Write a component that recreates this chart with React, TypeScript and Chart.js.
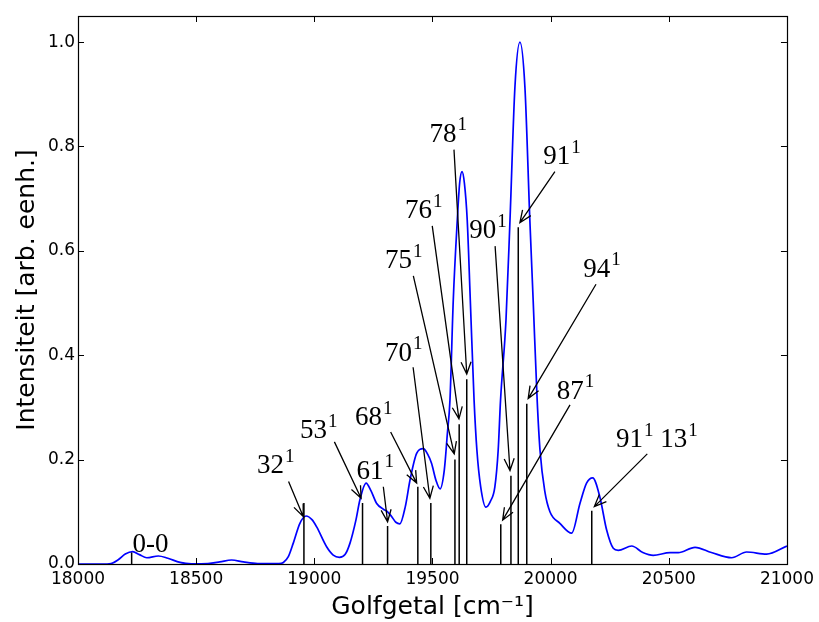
import React, { useEffect, useRef } from "react";
import { Chart, registerables } from "chart.js";

Chart.register(...registerables);

// ---- axis ticks ----
const xTicks = [18000, 18500, 19000, 19500, 20000, 20500, 21000];
const yTicks = [0, 0.2, 0.4, 0.6, 0.8, 1.0];

// ---- spectrum (blue curve) ----
const spectrumX = [
  18000, 18100, 18140, 18170, 18200, 18231, 18260, 18291, 18340, 18380, 18432, 18480,
  18550, 18600, 18650, 18700, 18760, 18850, 18869, 18890, 18911, 18939, 18965, 18990,
  19010, 19052, 19080, 19106, 19130, 19151, 19176, 19193, 19219, 19240, 19264, 19292,
  19310, 19327, 19345, 19362, 19385, 19405, 19433, 19461, 19480, 19496, 19515, 19532,
  19550, 19563, 19574, 19588, 19605, 19615, 19625, 19635, 19647, 19660, 19676, 19688,
  19704, 19726, 19745, 19764, 19778, 19788, 19811, 19828, 19849, 19870, 19891, 19912,
  19926, 19943, 19955, 19975, 19997, 20039, 20089, 20124, 20152, 20178, 20208, 20237,
  20265, 20286, 20343, 20390, 20434, 20505, 20540, 20611, 20680, 20766, 20829, 20914, 21000,
];
const spectrumY = [
  0, 0, 0.001, 0.008, 0.019, 0.0236, 0.018, 0.012, 0.0153, 0.011, 0.003, 0.0005,
  0.001, 0.004, 0.0077, 0.004, 0.001, 0.001, 0.003, 0.014, 0.04, 0.078, 0.092, 0.085,
  0.071, 0.033, 0.017, 0.0128, 0.018, 0.04, 0.084, 0.123, 0.155, 0.14, 0.116, 0.105,
  0.1, 0.091, 0.08, 0.077, 0.11, 0.161, 0.212, 0.221, 0.21, 0.193, 0.16, 0.144,
  0.18, 0.25, 0.314, 0.506, 0.659, 0.73, 0.752, 0.73, 0.659, 0.506, 0.314, 0.218,
  0.148, 0.109, 0.12, 0.148, 0.218, 0.314, 0.467, 0.659, 0.915, 1.0, 0.915, 0.659,
  0.506, 0.314, 0.218, 0.14, 0.1, 0.078, 0.059, 0.116, 0.155, 0.165, 0.129, 0.065,
  0.03, 0.026, 0.0345, 0.022, 0.0166, 0.0217, 0.0217, 0.032, 0.022, 0.012, 0.023, 0.019, 0.0345,
];

// ---- stick spectrum (black lines) ----
const stickX = [18227, 18956, 19204, 19310, 19438, 19493, 19595, 19613, 19645, 19789, 19832, 19863, 19899, 20174];
const stickY = [0.022, 0.117, 0.117, 0.073, 0.148, 0.117, 0.2, 0.268, 0.354, 0.076, 0.169, 0.645, 0.307, 0.102];

// ---- annotations ----
const labelTexts = ["0-0", "32^1", "53^1", "61^1", "68^1", "70^1", "75^1", "76^1", "78^1", "90^1", "91^1", "94^1", "87^1", "91^1 13^1"];
const labelX = [18231, 18757, 18939, 19179, 19172, 19299, 19299, 19384, 19487, 19656, 19969, 20138, 20026, 20277];
const labelY = [0.0236, 0.174, 0.241, 0.163, 0.266, 0.389, 0.567, 0.662, 0.809, 0.624, 0.766, 0.55, 0.317, 0.2235];
const arrowFromX = [null, 18891, 19085, 19292, 19323, 19418, 19419, 19499, 19591, 19765, 20018, 20192, 20082, 20409];
const arrowFromY = [null, 0.158, 0.234, 0.148, 0.253, 0.377, 0.552, 0.648, 0.794, 0.609, 0.752, 0.536, 0.305, 0.211];
const arrowToX = [null, 18953, 19198, 19310, 19433, 19489, 19592, 19612, 19645, 19828, 19870, 19905, 19797, 20185];
const arrowToY = [null, 0.091, 0.126, 0.081, 0.155, 0.126, 0.211, 0.278, 0.364, 0.179, 0.654, 0.317, 0.084, 0.11];

const MAIN_FONT = "27px 'Liberation Serif'";
const SUP_FONT = "19px 'Liberation Serif'";

function drawRich(ctx: CanvasRenderingContext2D, text: string, x: number, y: number) {
  const parts = text.split(/\^(\d+)/);
  let cx = x;
  ctx.textAlign = "left";
  ctx.textBaseline = "alphabetic";
  parts.forEach((p, i) => {
    if (!p) return;
    if (i % 2 === 1) {
      ctx.font = SUP_FONT;
      ctx.fillText(p, cx + 1, y - 11.5);
      cx += ctx.measureText(p).width + 1;
    } else {
      ctx.font = MAIN_FONT;
      ctx.fillText(p, cx, y);
      cx += ctx.measureText(p).width;
    }
  });
}

const annotationPlugin = {
  id: "annotations",
  afterDatasetsDraw(chart: any) {
    const { ctx, scales } = chart;
    const xs = scales.x;
    const ys = scales.y;
    ctx.save();
    ctx.fillStyle = "#000";
    ctx.strokeStyle = "#000";
    ctx.lineWidth = 1.3;
    for (let i = 0; i < labelTexts.length; i++) {
      drawRich(ctx, labelTexts[i], xs.getPixelForValue(labelX[i]), ys.getPixelForValue(labelY[i]));
      const fx = arrowFromX[i];
      if (fx === null) continue;
      const x0 = xs.getPixelForValue(fx);
      const y0 = ys.getPixelForValue(arrowFromY[i] as number);
      const x1 = xs.getPixelForValue(arrowToX[i] as number);
      const y1 = ys.getPixelForValue(arrowToY[i] as number);
      const ang = Math.atan2(y1 - y0, x1 - x0);
      const hl = 12;
      const hw = 5;
      const bx = x1 - hl * Math.cos(ang);
      const by = y1 - hl * Math.sin(ang);
      const nx = -Math.sin(ang);
      const ny = Math.cos(ang);
      ctx.beginPath();
      ctx.moveTo(x0, y0);
      ctx.lineTo(x1, y1);
      ctx.moveTo(bx + nx * hw, by + ny * hw);
      ctx.lineTo(x1, y1);
      ctx.lineTo(bx - nx * hw, by - ny * hw);
      ctx.stroke();
    }
    ctx.restore();
  },
};

const framePlugin = {
  id: "frame",
  afterDraw(chart: any) {
    const { ctx, chartArea: a, scales } = chart;
    const xs = scales.x;
    const ys = scales.y;
    ctx.save();
    ctx.strokeStyle = "#000";
    ctx.lineWidth = 1;
    ctx.beginPath();
    for (const t of xs.ticks) {
      const px = Math.round(xs.getPixelForValue(t.value)) + 0.5;
      ctx.moveTo(px, a.bottom);
      ctx.lineTo(px, a.bottom - 6);
      ctx.moveTo(px, a.top);
      ctx.lineTo(px, a.top + 6);
    }
    for (const t of ys.ticks) {
      const py = Math.round(ys.getPixelForValue(t.value)) + 0.5;
      ctx.moveTo(a.left, py);
      ctx.lineTo(a.left + 6, py);
      ctx.moveTo(a.right, py);
      ctx.lineTo(a.right - 6, py);
    }
    ctx.stroke();
    ctx.lineWidth = 1.2;
    ctx.strokeRect(Math.round(a.left) + 0.5, Math.round(a.top) + 0.5, Math.round(a.right - a.left), Math.round(a.bottom - a.top));
    ctx.restore();
  },
};

export default function App() {
  const ref = useRef<HTMLCanvasElement | null>(null);
  useEffect(() => {
    if (!ref.current) return;
    const spectrum = spectrumX.map((x, i) => ({ x, y: spectrumY[i] }));
    const sticks: any[] = [];
    stickX.forEach((x, i) => {
      sticks.push({ x, y: 0 }, { x, y: stickY[i] }, { x, y: null });
    });
    const tickFont = { family: "'DejaVu Sans'", size: 17 };
    const titleFont = { family: "'DejaVu Sans'", size: 25 };
    const chart = new Chart(ref.current, {
      type: "line",
      data: {
        datasets: [
          {
            data: sticks,
            borderColor: "#000",
            borderWidth: 1.5,
            pointRadius: 0,
            tension: 0,
            spanGaps: false,
            order: 0,
          },
          {
            data: spectrum,
            borderColor: "#0000ff",
            borderWidth: 1.7,
            pointRadius: 0,
            cubicInterpolationMode: "monotone",
            order: 1,
          },
        ] as any,
      },
      options: {
        animation: false,
        responsive: false,
        devicePixelRatio: 1,
        layout: { padding: { left: 0, right: 32, top: 16, bottom: 0 } },
        plugins: { legend: { display: false }, tooltip: { enabled: false } },
        scales: {
          x: {
            type: "linear",
            min: 18000,
            max: 21000,
            afterBuildTicks: (s: any) => {
              s.ticks = xTicks.map((v) => ({ value: v }));
            },
            afterFit: (s: any) => {
              s.height = 58;
            },
            ticks: {
              callback: (v: any) => String(v),
              font: tickFont,
              color: "#000",
              padding: 5,
              maxRotation: 0,
              autoSkip: false,
            },
            grid: { display: false, drawTicks: false },
            border: { display: false },
            title: {
              display: true,
              text: "Golfgetal [cm\u207B\u00B9]",
              font: titleFont,
              color: "#000",
              padding: { top: 0, bottom: 0 },
            },
          },
          y: {
            type: "linear",
            min: 0,
            max: 1.05,
            afterBuildTicks: (s: any) => {
              s.ticks = yTicks.map((v) => ({ value: v }));
            },
            afterFit: (s: any) => {
              s.width = 78;
            },
            ticks: {
              callback: (v: any) => Number(v).toFixed(1),
              font: tickFont,
              color: "#000",
              padding: 3,
              autoSkip: false,
            },
            grid: { display: false, drawTicks: false },
            border: { display: false },
            title: {
              display: true,
              text: "Intensiteit [arb. eenh.]",
              font: titleFont,
              color: "#000",
              padding: { top: 12, bottom: 0 },
            },
          },
        },
      } as any,
      plugins: [annotationPlugin, framePlugin],
    });
    return () => chart.destroy();
  }, []);
  return (
    <div style={{ position: "absolute", left: 0, top: 0, width: 819, height: 622, background: "#fff" }}>
      <canvas ref={ref} width={819} height={622} style={{ width: 819, height: 622 }} />
    </div>
  );
}
